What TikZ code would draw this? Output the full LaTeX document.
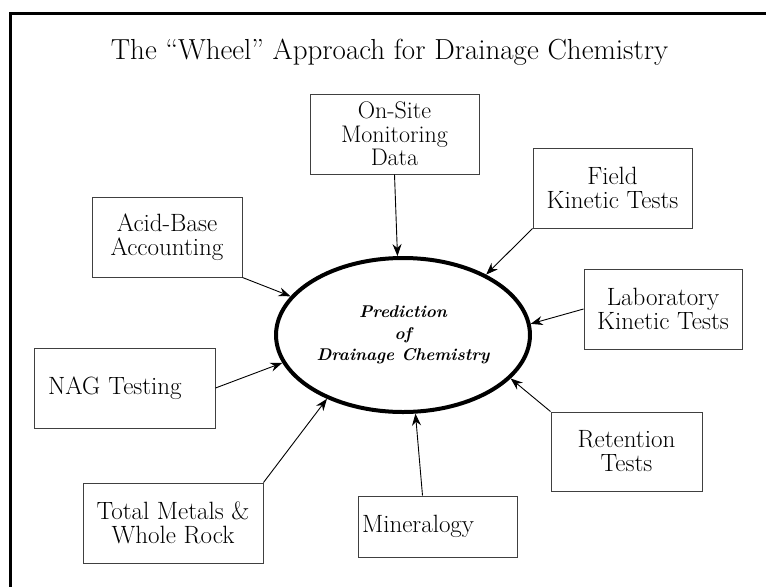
\documentclass[tikz,border=0pt]{standalone}
\usepackage{tikz}
\usetikzlibrary{arrows.meta,shapes.geometric,calc}

\begin{document}
\begin{tikzpicture}[x=1pt,y=-1pt,
  srcbox/.style={draw=black!75, line width=1pt, align=center, inner sep=0pt,
    font=\fontsize{25}{24}\selectfont},
  feed/.style={-{Stealth[length=12pt,width=9pt]}, line width=0.9pt}]

  \useasboundingbox (0,0) rectangle (766,587);
  % frame, cut off at right and bottom
  \draw[line width=3pt] (766,13.5) -- (10.5,13.5) -- (10.5,587);

  \node[anchor=base] (title) at (389.5,59)
    {\fontsize{29}{32}\selectfont The “Wheel” Approach for Drainage Chemistry};

  \node[ellipse, draw, line width=4pt, minimum width=238pt, minimum height=154pt,
    align=center, font=\fontsize{17}{21.5}\selectfont\bfseries\itshape] (pred) at (403,335)
    {Prediction\\of\\Drainage Chemistry};

  \node[srcbox, minimum width=169pt, minimum height=80pt,
    font=\fontsize{24}{23.5}\selectfont] (onsite) at (394.5,134) {On-Site\\Monitoring\\Data};
  \node[srcbox, minimum width=159pt, minimum height=80pt] (field) at (612.5,188) {Field\\Kinetic Tests};
  \node[srcbox, minimum width=150pt, minimum height=80pt] (acid) at (167,237) {Acid-Base\\Accounting};
  \node[srcbox, minimum width=158pt, minimum height=80pt] (lab) at (663,309) {Laboratory\\Kinetic Tests};
  \node[srcbox, minimum width=181pt, minimum height=80pt, text width=153pt, align=left,
    inner xsep=14pt] (nag) at (124.5,388) {NAG Testing};
  \node[srcbox, minimum width=151pt, minimum height=79pt] (retention) at (626.5,451.5) {Retention\\Tests};
  \node[srcbox, minimum width=180pt, minimum height=80pt] (metals) at (173,523) {Total Metals \&\\Whole Rock};
  \node[srcbox, minimum width=159pt, minimum height=61pt, text width=151pt, align=left,
    inner xsep=4pt] (mineral) at (437.5,526.5) {Mineralogy};

  \draw[feed] (onsite.south) -- (pred.94);
  \draw[feed] (field.south west) -- (pred.36);
  \draw[feed] (lab.west) -- (pred.5);
  \draw[feed] (retention.north west) -- (pred.-22);
  \draw[feed] ([xshift=-15pt]mineral.north) -- (pred.-81);
  \draw[feed] (metals.north east) -- (pred.220);
  \draw[feed] (nag.east) -- (pred.193);
  \draw[feed] (acid.south east) -- (pred.161);

\end{tikzpicture}
\end{document}
